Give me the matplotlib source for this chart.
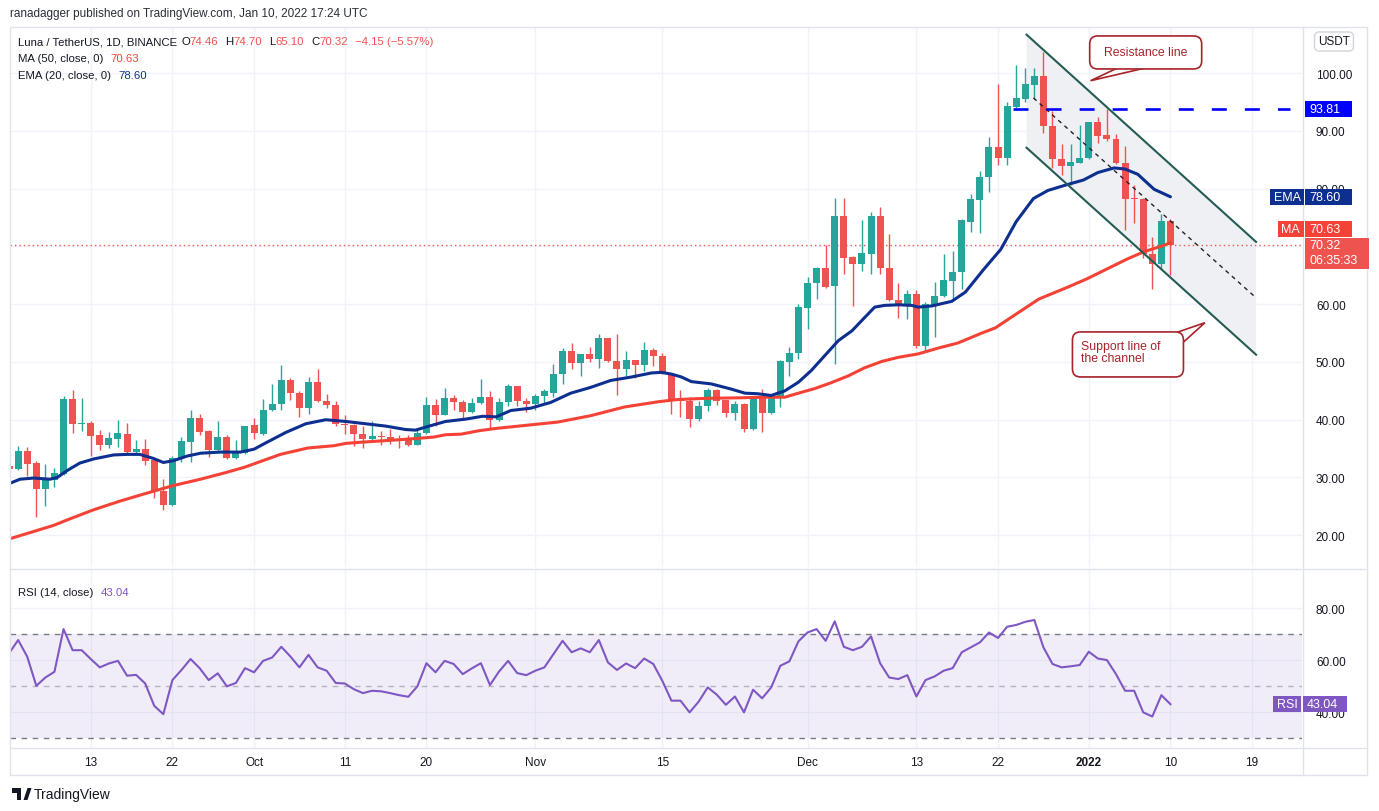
import numpy as np
import pandas as pd
import matplotlib
matplotlib.use("Agg")
import matplotlib.pyplot as plt
import matplotlib.dates as mdates
from matplotlib.lines import Line2D
from matplotlib.patches import Rectangle, Polygon, FancyBboxPatch
from matplotlib.ticker import FuncFormatter
from matplotlib.transforms import IdentityTransform

plt.rcParams['font.family'] = ['Liberation Sans', 'DejaVu Sans']
plt.rcParams['lines.scale_dashes'] = False

# ---- data (LUNA/USDT daily, Sep 4 2021 - Jan 10 2022) ----
dates = pd.date_range("2021-09-04", "2022-01-10", freq="D")

opens = [32.0, 31.5, 34.6, 32.5, 28.0, 29.5, 30.6, 43.6, 39.3, 39.4,
         37.3, 35.6, 36.7, 37.5, 34.4, 34.9, 33.0, 27.7, 25.3, 33.3,
         36.1, 40.3, 38.0, 34.8, 37.0, 33.3, 34.2, 39.1, 37.6, 41.6,
         42.7, 46.9, 44.7, 42.0, 46.6, 43.3, 42.6, 39.3, 39.1, 37.6,
         36.6, 37.2, 37.0, 36.6, 36.6, 35.7, 37.7, 42.6, 40.9, 43.7,
         43.0, 41.3, 42.9, 43.9, 39.9, 43.0, 45.8, 43.2, 42.8, 44.1,
         44.7, 47.9, 51.9, 49.8, 51.3, 50.5, 54.2, 50.1, 48.7, 50.3,
         49.4, 52.1, 51.1, 48.0, 43.6, 43.3, 40.1, 42.3, 45.2, 43.5,
         41.1, 42.8, 38.4, 43.9, 41.1, 43.7, 50.0, 51.5, 59.3, 63.6,
         66.2, 63.2, 75.2, 68.2, 67.0, 68.7, 75.2, 66.3, 60.7, 59.8,
         61.8, 52.7, 59.8, 61.4, 64.0, 65.5, 74.2, 78.0, 82.0, 87.2,
         85.3, 94.2, 95.6, 98.0, 99.5, 90.8, 85.1, 84.0, 84.5, 85.3,
         91.5, 89.3, 88.6, 84.4, 78.4, 78.3, 68.7, 66.9, 74.46]
highs = [32.6, 35.4, 35.2, 32.9, 32.4, 31.6, 44.1, 45.1, 43.7, 39.7,
         38.2, 37.9, 39.9, 39.4, 36.5, 36.6, 33.3, 29.7, 33.7, 37.0,
         41.6, 41.0, 38.2, 39.8, 37.3, 36.5, 39.0, 40.3, 43.6, 46.2,
         49.5, 47.3, 45.0, 47.4, 48.7, 44.5, 43.3, 40.9, 39.3, 38.9,
         39.8, 38.1, 38.4, 37.3, 37.3, 38.4, 43.9, 43.6, 45.5, 44.2,
         43.5, 43.7, 47.0, 44.9, 43.8, 46.1, 45.8, 43.7, 44.5, 45.4,
         49.7, 52.4, 53.2, 51.4, 52.6, 54.9, 54.2, 54.9, 51.9, 50.3,
         53.5, 52.5, 51.6, 48.1, 45.1, 43.9, 43.2, 45.5, 45.4, 43.5,
         43.2, 42.9, 43.8, 45.3, 44.0, 50.3, 52.6, 60.0, 64.7, 66.4,
         70.3, 78.4, 78.4, 68.4, 74.6, 76.0, 76.8, 72.2, 63.7, 62.4,
         62.4, 60.3, 63.8, 68.7, 69.3, 74.7, 79.1, 83.0, 88.9, 98.1,
         95.1, 101.5, 100.9, 100.9, 103.6, 93.5, 87.7, 87.7, 91.0, 91.6,
         92.4, 93.8, 89.5, 87.4, 80.6, 78.4, 71.7, 75.6, 74.70]
lows = [31.0, 31.3, 30.2, 23.2, 25.1, 28.4, 30.4, 37.7, 38.0, 33.8,
        34.8, 35.1, 35.3, 34.2, 34.0, 32.2, 26.5, 24.3, 25.0, 32.7,
        32.7, 37.4, 33.5, 34.4, 33.2, 33.2, 34.0, 36.7, 37.3, 41.5,
        41.7, 43.5, 40.4, 41.0, 43.0, 42.1, 39.0, 37.6, 35.4, 35.1,
        36.2, 35.7, 35.8, 35.1, 35.4, 35.6, 37.6, 39.0, 40.8, 41.7,
        39.9, 41.2, 42.8, 38.5, 39.7, 42.4, 42.4, 41.3, 41.6, 42.8,
        43.9, 46.2, 48.8, 47.6, 50.0, 49.0, 50.0, 44.2, 47.6, 47.2,
        48.4, 49.3, 47.9, 41.0, 40.5, 38.8, 39.7, 41.5, 42.6, 40.4,
        39.9, 37.9, 38.3, 37.9, 41.0, 42.2, 47.5, 50.5, 55.7, 60.9,
        62.8, 49.6, 65.2, 59.7, 65.8, 65.2, 65.2, 60.6, 57.6, 57.5,
        52.4, 51.7, 54.3, 61.3, 60.7, 62.6, 72.5, 72.3, 79.5, 84.1,
        84.1, 93.7, 95.0, 95.6, 89.6, 83.5, 82.4, 80.6, 84.4, 85.2,
        87.9, 88.3, 84.3, 72.8, 74.0, 68.0, 62.6, 66.1, 65.10]
closes = [31.5, 34.6, 32.4, 28.0, 29.6, 30.7, 43.6, 39.3, 39.5, 37.2,
          35.6, 36.8, 37.7, 34.4, 34.9, 32.9, 27.7, 25.3, 33.4, 36.3,
          40.3, 37.9, 34.8, 37.0, 33.3, 34.4, 38.9, 37.7, 41.6, 42.8,
          46.8, 44.6, 42.0, 46.6, 43.2, 42.5, 39.2, 39.1, 37.5, 36.6,
          37.2, 37.0, 36.5, 36.4, 35.7, 37.7, 42.6, 40.9, 43.7, 43.0,
          41.3, 42.9, 43.9, 39.9, 43.0, 45.8, 43.2, 42.8, 44.1, 44.9,
          48.0, 51.9, 49.8, 51.3, 50.5, 54.2, 50.1, 48.7, 50.3, 49.4,
          52.1, 51.0, 48.0, 43.2, 43.2, 40.1, 42.4, 45.2, 43.3, 41.1,
          42.8, 38.4, 43.7, 41.1, 43.9, 50.1, 51.5, 59.5, 63.7, 66.2,
          63.0, 75.2, 68.0, 67.0, 68.8, 75.2, 66.2, 60.7, 59.8, 61.8,
          52.7, 60.1, 61.5, 64.2, 65.6, 74.5, 78.2, 82.0, 87.2, 85.3,
          94.3, 95.7, 98.1, 99.5, 90.8, 85.1, 84.0, 84.6, 85.3, 91.5,
          89.2, 88.6, 84.4, 78.3, 78.2, 68.7, 66.9, 74.4, 70.32]

rsi = [62.6, 67.7, 61.3, 50.1, 53.3, 55.5, 71.9, 63.8, 63.8, 60.4,
       57.2, 58.7, 59.7, 54.0, 54.3, 51.0, 42.4, 39.2, 52.3, 56.2,
       60.4, 56.9, 52.3, 54.9, 49.9, 51.2, 56.9, 55.3, 59.7, 61.0,
       65.1, 61.4, 57.2, 62.0, 57.2, 55.9, 51.2, 51.0, 48.8, 47.3,
       48.2, 48.0, 47.3, 46.5, 45.9, 49.9, 58.8, 55.3, 59.7, 58.5,
       54.6, 56.8, 58.8, 50.4, 55.6, 59.7, 55.0, 54.2, 55.9, 57.2,
       62.3, 67.4, 63.0, 64.5, 63.0, 67.7, 59.1, 56.2, 58.7, 56.9,
       60.6, 58.5, 52.0, 44.4, 44.4, 39.9, 44.0, 49.5, 46.7, 42.8,
       46.0, 39.9, 48.6, 45.3, 49.5, 57.8, 59.5, 67.2, 70.6, 71.9,
       67.4, 74.9, 65.1, 63.8, 65.1, 69.1, 58.8, 53.3, 52.7, 54.2,
       46.0, 52.3, 53.7, 55.9, 56.9, 63.0, 64.9, 66.8, 70.6, 68.5,
       72.8, 73.5, 74.7, 75.4, 64.9, 58.5, 57.2, 57.6, 58.1, 63.2,
       60.6, 60.0, 54.6, 48.2, 48.2, 39.9, 38.3, 46.5, 43.04]

# EMA 20 and MA 50 (x = days after Sep 4)
ema_x = [0.1, 1.2, 2.7, 4.5, 5.3, 6.4, 7.8, 9.3, 11.5, 13.0, 14.4, 15.9, 17.0,
         18.1, 19.6, 21.1, 23.3, 25.5, 27.0, 28.3, 30.5, 32.7, 34.9, 37.1, 39.3,
         41.5, 43.7, 44.8, 46.3, 48.1, 50.3, 52.2, 53.7, 55.3, 57.5, 59.7, 61.9,
         64.1, 66.3, 68.6, 70.8, 71.9, 73.0, 74.1, 75.2, 77.4, 79.6, 81.1, 82.5,
         84.0, 85.5, 87.0, 88.4, 89.9, 91.4, 92.9, 94.3, 95.4, 96.5, 98.0, 99.5,
         100.2, 101.7, 103.9, 105.4, 107.4, 109.3, 111.0, 112.9, 114.5, 116.6,
         118.4, 120.0, 121.8, 123.0, 124.4, 126.2, 128.0]
ema_v = [29.0, 29.7, 29.9, 29.7, 30.0, 31.2, 32.5, 33.2, 33.9, 34.0, 34.0, 33.3, 32.6,
         32.9, 33.7, 34.2, 34.4, 34.4, 34.9, 36.0, 37.8, 39.3, 40.0, 39.7, 39.3,
         38.9, 38.3, 38.2, 38.9, 39.7, 40.1, 40.6, 40.5, 41.6, 42.0, 43.0, 44.6,
         45.6, 46.8, 47.4, 48.1, 48.2, 47.9, 47.4, 46.6, 46.2, 45.3, 44.6, 44.5,
         44.2, 45.0, 46.5, 48.5, 51.1, 53.7, 55.4, 57.7, 59.5, 59.8, 59.9, 59.8,
         59.5, 59.7, 60.5, 62.1, 66.0, 69.5, 74.3, 78.3, 79.7, 80.7,
         81.5, 82.8, 83.6, 83.4, 82.5, 79.9, 78.6]
ma_x = [0.1, 4.9, 6.4, 9.3, 12.2, 15.2, 18.1, 21.1, 24.0, 26.0, 29.9, 32.9, 35.8,
        37.1, 38.7, 41.7, 44.5, 46.8, 48.1, 49.8, 51.8, 53.7, 56.8, 60.5, 64.1,
        67.8, 71.5, 73.7, 76.7, 80.7, 83.3, 85.5, 87.0, 88.8, 90.6, 92.5, 94.3,
        96.2, 98.0, 100.2, 102.4, 104.6, 107.2, 108.7, 111.0, 113.5, 116.6, 118.8,
        121.0, 123.2, 125.1, 126.9, 128.0]
ma_v = [19.4, 21.7, 22.65, 24.4, 25.9, 27.3, 28.6, 29.7, 30.9, 31.8, 34.0, 35.1, 35.5,
        35.9, 36.1, 36.4, 36.7, 37.0, 37.4, 37.5, 38.1, 38.5, 39.0, 39.6, 40.7,
        42.2, 43.1, 43.5, 43.7, 43.8, 43.9, 43.9, 44.6, 45.4, 46.4, 47.6, 49.0,
        50.1, 50.8, 51.4, 52.4, 53.3, 55.0, 55.9, 58.3, 60.9, 62.9, 64.4,
        66.1, 67.8, 69.1, 70.0, 70.63]

# drawings on the chart (x = days after Sep 4, y = price)
chan_x = [112.14, 137.44]
chan_upper = [106.68, 70.79]
chan_lower = [87.1, 51.26]
mid_x = [112.9, 137.2]
mid_y = [95.72, 61.44]
level = 93.81
level_x = [110.6, 141.2]
res_box = (119.1, 106.45)      # top-left corner of the callout box
res_tip = (119.2, 98.7)
sup_box = (117.2, 55.2)
sup_tip = (131.8, 56.8)

tick_dates = ["2021-09-13", "2021-09-22", "2021-10-01", "2021-10-11", "2021-10-20",
              "2021-11-01", "2021-11-15", "2021-12-01", "2021-12-13", "2021-12-22",
              "2022-01-01", "2022-01-10", "2022-01-19"]
tick_labels = ["13", "22", "Oct", "11", "20", "Nov", "15", "Dec", "13", "22",
               "2022", "10", "19"]
price_ticks = [20, 30, 40, 50, 60, 70, 80, 90, 100]
rsi_ticks = [40, 60, 80]

# ---- style ----
W, H = 1379, 812
GREEN = '#26a69a'
RED = '#ef5350'
GRID = '#f0f3fa'
TXT = '#131722'
BORDER = '#e0e3eb'
EMA_C = '#0d2f8f'
MA_C = '#f44336'
RSI_C = '#7e57c2'
CALL = '#a8232a'
PIX = IdentityTransform()

fig = plt.figure(figsize=(W / 100, H / 100), dpi=100)
fig.patch.set_facecolor('white')

ax = fig.add_axes([10 / W, 1 - 568 / H, 1292 / W, 540 / H])
axr = fig.add_axes([10 / W, 1 - 749 / H, 1292 / W, 179.5 / H], sharex=ax)

d = mdates.date2num(dates)
x0 = d[0]
o = np.array(opens); c = np.array(closes)
col = np.where(c >= o, GREEN, RED)

ax.set_xlim(x0 + 0.1, x0 + 142.5)
ax.set_ylim(14.5, 108.0)
axr.set_ylim(26.2, 95.2)

tk = mdates.date2num(pd.to_datetime(tick_dates))
for a in (ax, axr):
    for s in a.spines.values():
        s.set_visible(False)
    a.set_axisbelow(True)
    a.grid(True, color=GRID, lw=1)
    a.yaxis.tick_right()
    a.tick_params(axis='y', length=0, pad=10, labelsize=8.5, labelcolor=TXT)
# the 70.00 label sits under the MA / last price tags, so it is left blank
ax.yaxis.set_major_formatter(FuncFormatter(lambda v, p: "" if abs(v - 70) < 1e-6 else f"{v:.2f}"))
axr.yaxis.set_major_formatter(FuncFormatter(lambda v, p: f"{v:.2f}"))
ax.set_xticks(tk)
axr.set_xticks(tk)
axr.set_xticklabels(tick_labels)
ax.tick_params(axis='x', length=0, labelbottom=False)
axr.tick_params(axis='x', length=0, pad=6, labelsize=8.5, labelcolor=TXT)
axr.get_xticklabels()[tick_labels.index("2022")].set_fontweight('bold')
ax.set_yticks(price_ticks)
axr.set_yticks(rsi_ticks)

# channel fill
cx = x0 + np.array(chan_x)
ax.add_patch(Polygon([(cx[0], chan_upper[0]), (cx[1], chan_upper[1]),
                      (cx[1], chan_lower[1]), (cx[0], chan_lower[0])],
                     closed=True, fc='#eef0f4', ec='none', zorder=1))

# candles
ax.vlines(d, lows, highs, colors=col, lw=1.0, zorder=3)
ax.bar(d, np.maximum(np.abs(c - o), 0.18), bottom=np.minimum(o, c), width=0.77,
       color=col, lw=0, zorder=3)

ax.plot(x0 + np.array(ma_x), ma_v, color=MA_C, lw=2.2, zorder=5, solid_capstyle='round')
ax.plot(x0 + np.array(ema_x), ema_v, color=EMA_C, lw=2.2, zorder=5, solid_capstyle='round')
ax.axhline(closes[-1], color=RED, lw=1, ls=(0, (1, 2.2)), zorder=2)

ax.plot(cx, chan_upper, color='#245c55', lw=1.5, zorder=6)
ax.plot(cx, chan_lower, color='#245c55', lw=1.5, zorder=6)
ax.plot(x0 + np.array(mid_x), mid_y, color='#222222', lw=1.0, ls=(0, (3, 3)), zorder=6)
ax.plot(x0 + np.array(level_x), [level, level], color='#0000ff', lw=1.9,
        ls=(0, (10.8, 13)), zorder=6)

# RSI pane
axr.fill_between([x0 - 5, x0 + 150], 30, 70, color=RSI_C, alpha=0.1, lw=0, zorder=1)
axr.axhline(70, color='#787b86', lw=1, ls=(0, (4, 4)), zorder=2)
axr.axhline(50, color='#787b86', lw=1, ls=(0, (4, 4)), alpha=0.5, zorder=2)
axr.axhline(30, color='#787b86', lw=1, ls=(0, (4, 4)), zorder=2)
axr.plot(d, rsi, color=RSI_C, lw=1.5, zorder=4)


def to_px(a, xd, yd):
    return a.transData.transform((x0 + xd, yd))


def callout(anchor, tip, w, h, base, text, tx_off, ty_mid, ha):
    xl, yt = to_px(ax, *anchor)
    tpx, tpy = to_px(ax, *tip)
    # tail: wedge from two points on the box edge to the tip
    pts = [(xl + base[0][0], yt - base[0][1]), (tpx, tpy), (xl + base[1][0], yt - base[1][1])]
    fig.add_artist(Polygon(pts, closed=True, transform=PIX, fc='white', ec=CALL, lw=1.2,
                           zorder=14))
    fig.add_artist(FancyBboxPatch((xl, yt - h), w, h, transform=PIX,
                                  boxstyle='round,pad=0,rounding_size=8',
                                  fc='white', ec=CALL, lw=1.2, zorder=15))
    fig.text(xl + tx_off, yt - ty_mid, text, transform=PIX, color=CALL, fontsize=8.8,
             ha=ha, va='center', linespacing=1.0, zorder=16)


callout(res_box, res_tip, 112, 33, [(30, 31), (60, 31)], "Resistance line", 56, 16.5, 'center')
callout(sup_box, sup_tip, 111, 45, [(100, 2), (109, 12)], "Support line of\nthe channel",
        9, 20, 'left')


# ---- frame, price scale tags, header ----
def fline(xs, ys):
    fig.add_artist(Line2D(xs, [H - y for y in ys], transform=PIX, color=BORDER, lw=1))


fline([10, 1367, 1367, 10, 10], [28, 28, 776, 776, 28])
fline([1302.5, 1302.5], [28, 776])
fline([10, 1367], [569.5, 569.5])
fline([10, 1367], [749, 749])


def ftext(x, y, s, **kw):
    return fig.text(x, H - y, s, transform=PIX, **kw)


def tag(a, value, text, color, x0p, x1p, hp=16, yoff=0, size=9):
    yc = a.transData.transform((x0, value))[1] + yoff
    fig.add_artist(Rectangle((x0p, yc - hp / 2), x1p - x0p, hp, transform=PIX,
                             fc=color, ec='none', zorder=20))
    fig.text(x0p + 4, yc, text, transform=PIX, color='white', fontsize=size,
             ha='left', va='center', zorder=21)


tag(ax, level, "93.81", '#0000ff', 1305, 1352)
tag(ax, ema_v[-1], "EMA", EMA_C, 1270, 1304)
tag(ax, ema_v[-1], "78.60", EMA_C, 1305, 1352)
tag(ax, ma_v[-1], "MA", MA_C, 1277.5, 1304, yoff=14)
tag(ax, ma_v[-1], "70.63", MA_C, 1305, 1352, yoff=14)
yc = ax.transData.transform((x0, closes[-1]))[1]
fig.add_artist(Rectangle((1305, yc - 24), 64, 31, transform=PIX, fc=RED, ec='none', zorder=20))
fig.text(1309, yc, "70.32", transform=PIX, color='white', fontsize=9, va='center', zorder=21)
fig.text(1309, yc - 15, "06:35:33", transform=PIX, color='white', fontsize=9,
         va='center', zorder=21)
tag(axr, rsi[-1], "RSI", RSI_C, 1273, 1300.5)
tag(axr, rsi[-1], "43.04", RSI_C, 1302.5, 1347)

ftext(1334, 42.5, "USDT", ha='center', va='center', fontsize=8.5, color=TXT,
      bbox=dict(boxstyle='round,pad=0.3,rounding_size=0.4', fc='white', ec='#d1d4dc', lw=1))

ftext(10, 14.5, "ranadagger published on TradingView.com, Jan 10, 2022 17:24 UTC",
      fontsize=8.5, color='#2a2e39', va='center')

renderer = fig.canvas.get_renderer()


def pieces(x, y, parts, size=8.2):
    # write coloured fragments one after the other on one line
    for s, color, gap in parts:
        t = ftext(x, y, s, fontsize=size, color=color, va='center')
        x = t.get_window_extent(renderer).x1 + gap


pieces(18, 42.3, [("Luna / TetherUS, 1D, BINANCE", TXT, 4), ("O", TXT, 0), ("74.46", RED, 7),
                  ("H", TXT, 0), ("74.70", RED, 7), ("L", TXT, 0), ("65.10", RED, 7),
                  ("C", TXT, 0), ("70.32", RED, 7), ("\u22124.15 (\u22125.57%)", RED, 0)])
pieces(18, 59, [("MA (50, close, 0)", TXT, 7), ("70.63", MA_C, 0)])
pieces(18, 76, [("EMA (20, close, 0)", TXT, 7), ("78.60", EMA_C, 0)])
pieces(18, 593, [("RSI (14, close)", TXT, 7), ("43.04", RSI_C, 0)])

# TradingView logo + name
fig.add_artist(Rectangle((12, H - 793.5), 9, 4.5, transform=PIX, fc=TXT, ec='none'))
fig.add_artist(Rectangle((16.5, H - 801), 4.5, 12, transform=PIX, fc=TXT, ec='none'))
fig.add_artist(Polygon([(23.5, H - 801), (27.5, H - 801), (31.5, H - 789), (27.5, H - 789)],
                       closed=True, transform=PIX, fc=TXT, ec='none'))
ftext(34, 795.5, "TradingView", fontsize=10, color=TXT, va='center')

fig.savefig("out.png", dpi=100, facecolor='white')
